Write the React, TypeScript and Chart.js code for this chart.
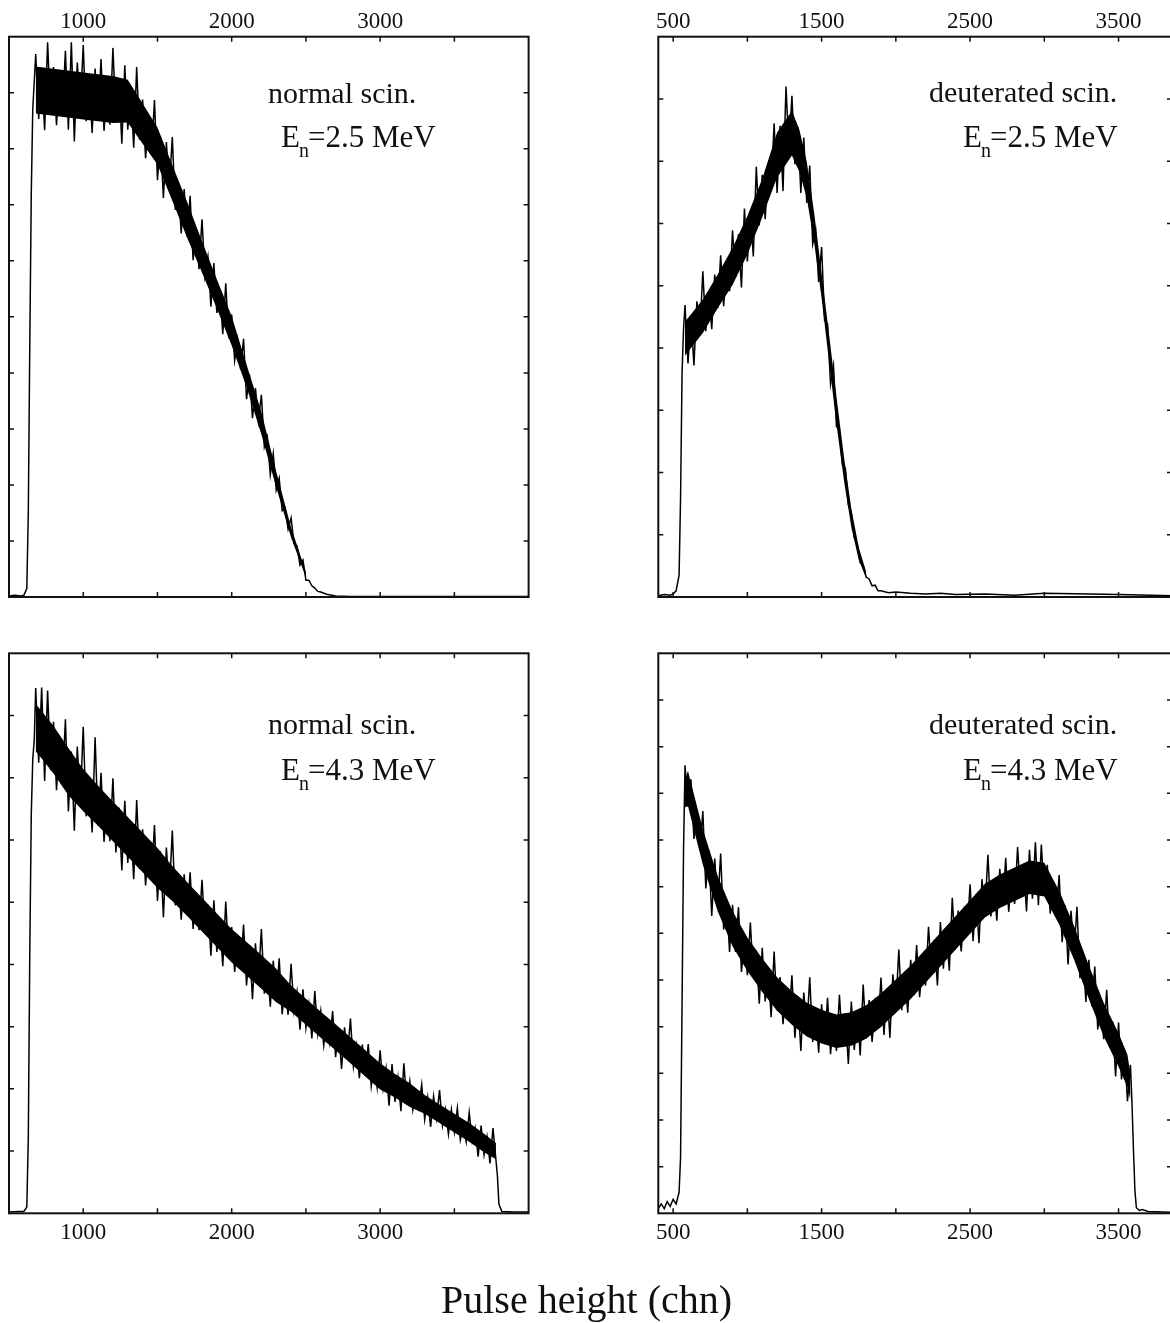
import React, { useEffect, useRef } from 'react';
import { Chart, registerables } from 'chart.js';

Chart.register(...registerables);

// ---- data: [channel, counts (arb. units)] ----
const normal25: [number, number][] = [
  [500,0.02],[540,0.03],[580,0.02],[600,0.03],[620,0.15],[630,1.5],[640,4.5],[650,7.2],[660,8.7],
  [680,9.69],[700,8.53],[720,9.36],[740,8.33],[760,9.9],[780,8.64],[800,9.46],[820,8.42],[840,9.26],[860,8.67],
  [880,9.75],[900,8.34],[920,9.9],[940,8.13],[960,9.54],[980,8.69],[1000,9.85],[1020,8.49],[1040,9.25],[1060,8.28],
  [1080,9.43],[1100,8.53],[1120,9.6],[1140,8.32],[1160,9.08],[1180,8.43],[1200,9.8],[1220,8.55],[1240,9.24],[1260,8.09],
  [1280,9.49],[1300,8.34],[1320,9.07],[1340,8.02],[1360,9.46],[1380,8.16],[1400,8.88],[1420,7.83],[1440,8.53],[1460,7.91],
  [1480,8.87],[1500,7.44],[1520,8.22],[1540,7.12],[1560,8.12],[1580,7.31],[1600,8.21],[1620,6.91],[1640,7.39],[1660,6.49],
  [1680,7.28],[1700,6.43],[1720,7.16],[1740,6.01],[1760,6.5],[1780,5.85],[1800,6.74],[1820,5.73],[1840,6.07],[1860,5.18],
  [1880,5.96],[1900,5.07],[1920,5.49],[1940,4.69],[1960,5.6],[1980,4.62],[2000,5.04],[2020,4.22],[2040,4.59],[2060,4.06],
  [2080,4.61],[2100,3.53],[2120,3.97],[2140,3.19],[2160,3.73],[2180,3.14],[2200,3.61],[2220,2.68],[2240,2.86],[2260,2.18],
  [2280,2.56],[2300,1.91],[2320,2.12],[2340,1.54],[2360,1.59],[2380,1.21],[2400,1.41],[2420,0.95],[2440,0.91],[2460,0.57],
  [2480,0.66],[2500,0.3],[2520,0.3],[2540,0.2],[2560,0.16],[2580,0.1],[2600,0.09],[2640,0.05],[2700,0.02],
  [2800,0.01],[3000,0.01],[3400,0.01],[4000,0.01],
];
// solid core of the noise band: [channel, lower edge, upper edge]
const normal25Band: [number, number, number][] = [
  [680,8.63,9.47],[800,8.59,9.43],[1000,8.52,9.36],[1200,8.46,9.3],[1300,8.47,9.23],[1400,8.09,8.81],
  [1500,7.72,8.38],[1600,7.07,7.71],[1700,6.41,7.05],[1800,5.79,6.35],[1900,5.15,5.67],[2000,4.49,5.01],
  [2100,3.75,4.15],[2200,2.9,3.3],[2300,1.96,2.24],[2400,1.06,1.24],[2500,0.35,0.45],
];

const normal43: [number, number][] = [
  [500,0.02],[560,0.03],[600,0.03],[620,0.1],[630,1.2],[640,4.2],[650,6.4],[660,7.3],[670,7.6],
  [680,8.44],[700,7.24],[720,8.45],[740,6.95],[760,8.4],[780,7.12],[800,7.9],[820,6.8],[840,7.57],[860,6.92],
  [880,7.94],[900,6.46],[920,7.42],[940,6.15],[960,7.5],[980,6.6],[1000,7.82],[1020,6.38],[1040,6.97],[1060,6.12],
  [1080,7.65],[1100,6.23],[1120,7.08],[1140,5.97],[1160,6.56],[1180,5.98],[1200,6.99],[1220,5.8],[1240,6.52],[1260,5.51],
  [1280,6.63],[1300,5.63],[1320,6.27],[1340,5.37],[1360,6.64],[1380,5.53],[1400,6.17],[1420,5.27],[1440,5.91],[1460,5.39],
  [1480,6.24],[1500,5.02],[1520,5.82],[1540,4.76],[1560,5.88],[1580,5.14],[1600,6.15],[1620,4.95],[1640,5.42],[1660,4.72],
  [1680,5.45],[1700,4.79],[1720,5.48],[1740,4.57],[1760,5.03],[1780,4.55],[1800,5.36],[1820,4.54],[1840,4.96],[1860,4.14],
  [1880,5.03],[1900,4.2],[1920,4.72],[1940,3.97],[1960,5.01],[1980,4.09],[2000,4.6],[2020,3.88],[2040,4.4],[2060,3.96],
  [2080,4.64],[2100,3.66],[2120,4.31],[2140,3.44],[2160,4.34],[2180,3.74],[2200,4.57],[2220,3.53],[2240,4.0],[2260,3.32],
  [2280,4.06],[2300,3.4],[2320,4.1],[2340,3.2],[2360,3.67],[2380,3.19],[2400,4.01],[2420,3.25],[2440,3.56],[2460,2.95],
  [2480,3.6],[2500,2.98],[2520,3.36],[2540,2.81],[2560,3.57],[2580,2.89],[2600,3.25],[2620,2.7],[2640,3.08],[2660,2.75],
  [2680,3.25],[2700,2.51],[2720,2.97],[2740,2.32],[2760,2.99],[2780,2.53],[2800,3.13],[2820,2.36],[2840,2.69],[2860,2.17],
  [2880,2.71],[2900,2.22],[2920,2.72],[2940,2.04],[2960,2.38],[2980,2.02],[3000,2.62],[3020,2.01],[3040,2.33],[3060,1.73],
  [3080,2.4],[3100,1.79],[3120,2.18],[3140,1.64],[3160,2.41],[3180,1.74],[3200,2.12],[3220,1.66],[3240,1.94],[3260,1.7],
  [3280,2.07],[3300,1.51],[3320,1.86],[3340,1.39],[3360,1.88],[3380,1.53],[3400,1.98],[3420,1.41],[3440,1.67],[3460,1.27],
  [3480,1.67],[3500,1.31],[3520,1.69],[3540,1.18],[3560,1.42],[3580,1.15],[3600,1.62],[3620,1.16],[3640,1.37],[3660,0.91],
  [3680,1.41],[3700,0.94],[3720,1.23],[3740,0.8],[3760,1.37],[3780,0.86],[3790,0.6],[3800,0.15],[3820,0.03],
  [3900,0.02],[4000,0.02],
];
const normal43Band: [number, number, number][] = [
  [680,7.42,8.18],[700,7.37,8.13],[800,7.07,7.83],[900,6.72,7.48],[1000,6.46,7.14],[1100,6.23,6.87],[1200,5.98,6.62],
  [1300,5.73,6.37],[1400,5.48,6.12],[1500,5.23,5.87],[1600,5.02,5.58],[1700,4.78,5.32],[1800,4.53,5.07],[1900,4.28,4.82],
  [2000,4.03,4.57],[2100,3.82,4.36],[2200,3.61,4.15],[2300,3.39,3.93],[2400,3.24,3.66],[2500,3.03,3.45],[2600,2.82,3.24],
  [2700,2.62,3.04],[2800,2.41,2.83],[2900,2.2,2.62],[3000,1.99,2.41],[3100,1.86,2.24],[3200,1.71,2.09],[3300,1.6,1.9],
  [3400,1.45,1.75],[3500,1.3,1.6],[3600,1.15,1.45],[3700,0.98,1.28],[3780,0.87,1.13],
];

const deut25: [number, number][] = [
  [400,0.02],[440,0.04],[480,0.03],[500,0.05],[520,0.1],[540,0.35],[550,1.6],[560,3.6],[570,4.3],
  [580,4.69],[600,3.75],[620,4.52],[640,3.72],[660,4.75],[680,4.25],[700,5.23],[720,4.27],[740,4.89],[760,4.3],
  [780,5.18],[800,4.64],[820,5.49],[840,4.67],[860,5.28],[880,4.91],[900,5.89],[920,5.15],[940,5.83],[960,4.97],
  [980,6.24],[1000,5.39],[1020,6.2],[1040,5.47],[1060,6.91],[1080,5.97],[1100,6.78],[1120,6.07],[1140,6.9],[1160,6.56],
  [1180,7.61],[1200,6.49],[1220,7.57],[1240,6.52],[1260,8.2],[1280,7.19],[1300,8.05],[1320,6.95],[1340,7.55],[1360,6.49],
  [1380,7.38],[1400,6.33],[1420,6.93],[1440,5.67],[1460,5.89],[1480,5.06],[1500,5.62],[1520,4.44],[1540,4.39],[1560,3.42],
  [1580,3.72],[1600,2.74],[1620,2.68],[1640,2.12],[1660,2.07],[1680,1.48],[1700,1.35],[1720,0.95],[1740,0.86],[1760,0.55],
  [1780,0.51],[1800,0.32],[1820,0.29],[1840,0.18],[1860,0.19],[1880,0.1],[1900,0.1],[1950,0.07],[2000,0.08],
  [2100,0.06],[2200,0.05],[2300,0.06],[2400,0.04],[2600,0.05],[2800,0.03],[3000,0.06],[3500,0.04],[3860,0.02],
];
const deut25Band: [number, number, number][] = [
  [580,3.88,4.42],[700,4.24,4.78],[800,4.64,5.18],[900,5.01,5.61],[1000,5.5,6.12],[1100,6.1,6.72],
  [1200,6.74,7.46],[1300,7.09,7.81],[1350,6.83,7.51],[1400,6.41,6.99],[1450,5.69,6.17],[1500,4.8,5.2],
  [1550,3.78,4.22],[1600,2.78,3.22],[1650,1.88,2.26],[1700,1.12,1.42],[1750,0.6,0.8],[1800,0.3,0.4],
];

const deut43: [number, number][] = [
  [400,0.1],[420,0.2],[440,0.1],[460,0.25],[480,0.15],[500,0.3],[520,0.2],[540,0.45],[550,1.2],[560,4.5],
  [570,7.8],[580,9.6],[600,8.72],[620,9.3],[640,8.02],[660,8.61],[680,7.78],[700,8.62],[720,6.96],[740,7.78],
  [760,6.37],[780,7.6],[800,6.59],[820,7.71],[840,6.08],[860,6.7],[880,5.6],[900,6.61],[920,5.6],[940,6.56],
  [960,5.17],[980,5.84],[1000,5.1],[1020,6.23],[1040,5.07],[1060,5.63],[1080,4.49],[1100,5.69],[1120,4.54],[1140,5.24],
  [1160,4.2],[1180,5.61],[1200,4.35],[1220,5.06],[1240,4.05],[1260,4.76],[1280,4.16],[1300,5.1],[1320,3.76],[1340,4.65],
  [1360,3.48],[1380,4.73],[1400,3.91],[1420,5.06],[1440,3.67],[1460,4.36],[1480,3.44],[1500,4.48],[1520,3.63],[1540,4.62],
  [1560,3.41],[1580,4.1],[1600,3.48],[1620,4.68],[1640,3.62],[1660,4.28],[1680,3.2],[1700,4.54],[1720,3.5],[1740,4.31],
  [1760,3.38],[1780,4.9],[1800,3.75],[1820,4.57],[1840,3.67],[1860,4.49],[1880,4.0],[1900,5.05],[1920,3.82],[1940,4.82],
  [1960,3.76],[1980,5.12],[2000,4.41],[2020,5.65],[2040,4.35],[2060,5.13],[2080,4.3],[2100,5.43],[2120,4.67],[2140,5.75],
  [2160,4.63],[2180,5.41],[2200,4.88],[2220,6.14],[2240,5.14],[2260,5.86],[2280,4.88],[2300,6.24],[2320,5.24],[2340,6.09],
  [2360,5.2],[2380,6.76],[2400,5.65],[2420,6.49],[2440,5.61],[2460,6.45],[2480,5.98],[2500,7.05],[2520,5.83],[2540,6.84],
  [2560,5.79],[2580,7.16],[2600,6.46],[2620,7.68],[2640,6.36],[2660,7.12],[2680,6.27],[2700,7.38],[2720,6.58],[2740,7.62],
  [2760,6.46],[2780,7.2],[2800,6.63],[2820,7.85],[2840,6.81],[2860,7.49],[2880,6.47],[2900,7.79],[2920,6.74],[2940,7.95],
  [2960,6.6],[2980,7.9],[3000,6.8],[3020,7.47],[3040,6.42],[3060,7.07],[3080,6.39],[3100,7.25],[3120,5.81],[3140,6.6],
  [3160,5.33],[3180,6.48],[3200,5.56],[3220,6.57],[3240,5.04],[3260,5.59],[3280,4.53],[3300,5.43],[3320,4.44],[3340,5.29],
  [3360,3.94],[3380,4.49],[3400,3.73],[3420,4.79],[3440,3.59],[3460,4.11],[3480,2.93],[3500,4.09],[3520,2.87],[3540,3.5],
  [3560,2.4],[3580,3.18],[3590,2.4],[3600,1.4],[3610,0.5],[3620,0.12],[3640,0.06],[3660,0.08],[3700,0.04],
  [3800,0.03],[3860,0.02],
];
const deut43Band: [number, number, number][] = [
  [580,8.7,9.3],[600,8.72,9.48],[700,7.47,8.23],[800,6.47,7.23],[900,5.72,6.48],[1000,5.19,5.91],[1100,4.74,5.46],
  [1200,4.34,5.06],[1300,4.04,4.76],[1400,3.79,4.51],[1500,3.64,4.36],[1600,3.54,4.26],[1700,3.59,4.31],[1800,3.74,4.46],
  [1900,3.99,4.71],[2000,4.29,5.01],[2100,4.59,5.31],[2200,4.94,5.66],[2300,5.29,6.01],[2400,5.64,6.36],[2500,5.99,6.71],
  [2600,6.34,7.06],[2700,6.54,7.26],[2800,6.69,7.41],[2900,6.84,7.56],[3000,6.79,7.51],[3100,6.19,6.91],[3200,5.44,6.16],
  [3300,4.59,5.31],[3400,3.79,4.51],[3500,3.14,3.86],[3560,2.7,3.4],[3580,2.42,2.98],
];

// ---- axes ----
const leftTicks = [1000, 1500, 2000, 2500, 3000, 3500];
const leftLabels = [1000, 2000, 3000];
const rightTicks = [500, 1000, 1500, 2000, 2500, 3000, 3500];
const rightLabels = [500, 1500, 2500, 3500];
const yTicks10 = [1, 2, 3, 4, 5, 6, 7, 8, 9];
const yTicks9 = [1, 2, 3, 4, 5, 6, 7, 8];
const yTicks12 = [1, 2, 3, 4, 5, 6, 7, 8, 9, 10, 11];

const FONT = '"Liberation Serif", "Times New Roman", serif';

type PanelProps = {
  data: [number, number][];
  band: [number, number, number][];
  xMin: number; xMax: number; yMax: number;
  xTicks: number[]; xLabels: number[]; yTicks: number[];
  labelTop: boolean;
  box: { x: number; y: number; w: number; h: number };
  pad: { left: number; top: number; right: number; bottom: number };
};

function Panel(p: PanelProps) {
  const ref = useRef<HTMLCanvasElement>(null);
  useEffect(() => {
    const frame = {
      id: 'frame',
      afterDatasetsDraw(chart: any) {
        const { ctx, chartArea: a, scales } = chart;
        const xs = scales.x, ys = scales.y;
        ctx.save();
        ctx.strokeStyle = '#111';
        ctx.lineWidth = 1.5;
        ctx.beginPath();
        for (const v of p.xTicks) {
          const px = xs.getPixelForValue(v);
          ctx.moveTo(px, a.top); ctx.lineTo(px, a.top + 5);
          ctx.moveTo(px, a.bottom); ctx.lineTo(px, a.bottom - 5);
        }
        for (const v of p.yTicks) {
          const py = ys.getPixelForValue(v);
          ctx.moveTo(a.left, py); ctx.lineTo(a.left + 5, py);
          ctx.moveTo(a.right, py); ctx.lineTo(a.right - 5, py);
        }
        ctx.stroke();
        ctx.lineWidth = 2;
        ctx.strokeRect(a.left, a.top, a.right - a.left, a.bottom - a.top);
        ctx.fillStyle = '#111';
        ctx.font = `23px ${FONT}`;
        ctx.textAlign = 'center';
        ctx.textBaseline = 'alphabetic';
        for (const v of p.xLabels) {
          const px = xs.getPixelForValue(v);
          ctx.fillText(String(v), px, p.labelTop ? a.top - 9 : a.bottom + 26);
        }
        ctx.restore();
      },
    };
    const common = { pointRadius: 0, tension: 0 };
    const chart = new Chart(ref.current!, {
      type: 'line',
      data: {
        datasets: [
          { ...common, data: p.band.map(([x, lo]) => ({ x, y: lo })), borderWidth: 0, borderColor: 'rgba(0,0,0,0)', fill: false },
          { ...common, data: p.band.map(([x, , hi]) => ({ x, y: hi })), borderWidth: 0, borderColor: 'rgba(0,0,0,0)', backgroundColor: '#000', fill: '-1' },
          { ...common, data: p.data.map(([x, y]) => ({ x, y })), borderColor: '#000', borderWidth: 1.5, fill: false },
        ],
      },
      options: {
        animation: false,
        responsive: false,
        devicePixelRatio: 1,
        events: [],
        layout: { padding: p.pad },
        scales: {
          x: { type: 'linear', min: p.xMin, max: p.xMax, display: false },
          y: { type: 'linear', min: 0, max: p.yMax, display: false },
        },
        plugins: { legend: { display: false }, tooltip: { enabled: false } },
      },
      plugins: [frame],
    } as any);
    return () => chart.destroy();
  }, []);
  return (
    <canvas
      ref={ref}
      width={p.box.w}
      height={p.box.h}
      style={{ position: 'absolute', left: p.box.x, top: p.box.y, width: p.box.w, height: p.box.h }}
    />
  );
}

function Label({ x, y, size, children }: { x: number; y: number; size: number; children: any }) {
  // y is the text baseline
  return (
    <div style={{
      position: 'absolute', left: x, top: y - 0.8375 * size, fontFamily: FONT,
      fontSize: size, lineHeight: `${size}px`, color: '#111', whiteSpace: 'nowrap',
    }}>{children}</div>
  );
}

function En({ value }: { value: string }) {
  return (
    <>
      E<span style={{ fontSize: 20, position: 'relative', top: 10, lineHeight: 0, marginLeft: -1, marginRight: -1 }}>n</span>={value} MeV
    </>
  );
}

export default function App() {
  useEffect(() => {
    document.body.style.margin = '0';
    document.body.style.background = '#fff';
  }, []);
  return (
    <div style={{ position: 'relative', width: 1170, height: 1323, overflow: 'hidden', background: '#fff' }}>
      <Panel data={normal25} band={normal25Band} xMin={500} xMax={4000} yMax={10} xTicks={leftTicks} xLabels={leftLabels}
        yTicks={yTicks10} labelTop={true}
        box={{ x: 0, y: 0, w: 585, h: 625 }} pad={{ left: 9, top: 36.7, right: 56.4, bottom: 28 }} />
      <Panel data={deut25} band={deut25Band} xMin={400} xMax={3860} yMax={9} xTicks={rightTicks} xLabels={rightLabels}
        yTicks={yTicks9} labelTop={true}
        box={{ x: 585, y: 0, w: 600, h: 625 }} pad={{ left: 73.3, top: 36.7, right: 13, bottom: 28 }} />
      <Panel data={normal43} band={normal43Band} xMin={500} xMax={4000} yMax={9} xTicks={leftTicks} xLabels={leftLabels}
        yTicks={yTicks9} labelTop={false}
        box={{ x: 0, y: 625, w: 585, h: 698 }} pad={{ left: 9, top: 28.3, right: 56.4, bottom: 109.7 }} />
      <Panel data={deut43} band={deut43Band} xMin={400} xMax={3860} yMax={12} xTicks={rightTicks} xLabels={rightLabels}
        yTicks={yTicks12} labelTop={false}
        box={{ x: 585, y: 625, w: 600, h: 698 }} pad={{ left: 73.3, top: 28.3, right: 13, bottom: 109.7 }} />

      <Label x={268} y={103} size={30}>normal scin.</Label>
      <Label x={281} y={147} size={31}><En value="2.5" /></Label>
      <Label x={929} y={102} size={30}>deuterated scin.</Label>
      <Label x={963} y={147} size={31}><En value="2.5" /></Label>

      <Label x={268} y={734} size={30}>normal scin.</Label>
      <Label x={281} y={780} size={31}><En value="4.3" /></Label>
      <Label x={929} y={734} size={30}>deuterated scin.</Label>
      <Label x={963} y={780} size={31}><En value="4.3" /></Label>

      <div style={{
        position: 'absolute', left: 0, width: 1173, top: 1313 - 0.8375 * 40, textAlign: 'center',
        fontFamily: FONT, fontSize: 40, lineHeight: '40px', color: '#111',
      }}>Pulse height (chn)</div>
    </div>
  );
}
